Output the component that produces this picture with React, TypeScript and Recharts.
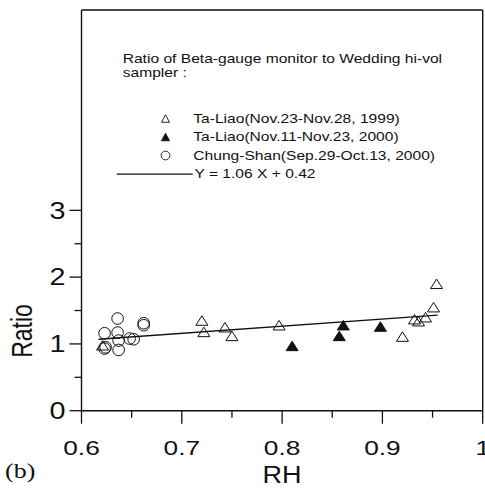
import React from 'react';
import { ScatterChart, Scatter, XAxis, YAxis, ReferenceLine, Customized } from 'recharts';

// Ta-Liao (Nov.23-Nov.28, 1999) - open triangles
const openTriRH = [0.621, 0.720, 0.722, 0.743, 0.750, 0.797, 0.920, 0.932, 0.936, 0.943, 0.951, 0.954];
const openTriRatio = [0.98, 1.35, 1.18, 1.25, 1.12, 1.28, 1.11, 1.37, 1.34, 1.40, 1.55, 1.90];

// Ta-Liao (Nov.11-Nov.23, 2000) - filled triangles
const filledTriRH = [0.810, 0.857, 0.861, 0.898];
const filledTriRatio = [0.97, 1.12, 1.28, 1.26];

// Chung-Shan (Sep.29-Oct.13, 2000) - open circles
const circleRH = [0.623, 0.623, 0.624, 0.636, 0.636, 0.637, 0.637, 0.648, 0.652, 0.662, 0.662];
const circleRatio = [1.16, 0.93, 0.95, 1.38, 1.17, 1.05, 0.91, 1.08, 1.07, 1.31, 1.28];

// Regression line Y = 1.06 X + 0.42 (end points)
const fitRH = [0.617, 0.955];
const fitRatio = [1.07, 1.43];

const xTicks = [0.6, 0.65, 0.7, 0.75, 0.8, 0.85, 0.9, 0.95, 1.0];
const yTicks = [0, 0.5, 1, 1.5, 2, 2.5, 3];

const legendTitle1 = 'Ratio of Beta-gauge monitor to Wedding hi-vol';
const legendTitle2 = 'sampler :';
const legendLabels = [
  'Ta-Liao(Nov.23-Nov.28, 1999)',
  'Ta-Liao(Nov.11-Nov.23, 2000)',
  'Chung-Shan(Sep.29-Oct.13, 2000)',
  'Y = 1.06 X + 0.42',
];

const zip = (xs: number[], ys: number[]) => xs.map((x, i) => ({ x, y: ys[i] }));
const openTriData = zip(openTriRH, openTriRatio);
const filledTriData = zip(filledTriRH, filledTriRatio);
const circleData = zip(circleRH, circleRatio);
const fitData = zip(fitRH, fitRatio);

const FONT = '"Liberation Sans", Arial, Helvetica, sans-serif';
const SX = 1.25;
const INK = '#111';

const SText = ({ x, y, size, anchor = 'start', sx = SX, children, family = FONT }: any) => (
  <text
    transform={`translate(${x},${y}) scale(${sx},1)`}
    x={0}
    y={0}
    fontSize={size}
    fontFamily={family}
    textAnchor={anchor}
    fill={INK}
  >
    {children}
  </text>
);

const triPath = (cx: number, cy: number, w: number, h: number) =>
  `M${cx},${cy - h / 2} L${cx - w / 2},${cy + h / 2} L${cx + w / 2},${cy + h / 2} Z`;

const OpenTri = (p: any) => <path d={triPath(p.cx, p.cy, 12, 9.5)} fill="none" stroke={INK} strokeWidth={1} />;
const FilledTri = (p: any) => <path d={triPath(p.cx, p.cy, 12, 9.5)} fill={INK} stroke={INK} strokeWidth={1} />;
const OpenCircle = (p: any) => <circle cx={p.cx} cy={p.cy} r={5.8} fill="none" stroke={INK} strokeWidth={1} />;
const NoDot = () => <g />;

const isMajorX = (v: number) => Math.abs(v * 10 - Math.round(v * 10)) < 1e-6;
const XTick = ({ x, y, payload }: any) => {
  const v = payload.value;
  const major = isMajorX(v);
  return (
    <g>
      <line x1={x} x2={x} y1={y} y2={y + (major ? 13 : 7)} stroke={INK} strokeWidth={1.3} />
      {major && (
        <SText x={x} y={y + 44.5} size={21} anchor="middle">
          {String(v)}
        </SText>
      )}
    </g>
  );
};

const YTick = ({ x, y, payload }: any) => {
  const v = payload.value;
  const major = Number.isInteger(v);
  return (
    <g>
      <line x1={x - (major ? 12 : 7)} x2={x} y1={y} y2={y} stroke={INK} strokeWidth={1.3} />
      {major && (
        <SText x={x - 16} y={y + 8.3} size={23} anchor="end">
          {String(v)}
        </SText>
      )}
    </g>
  );
};

const LEG = 13;
const LSX = 1.2;

const Decorations = () => (
  <g>
    {/* axis titles */}
    <SText x={282} y={483} size={23.5} anchor="middle" sx={1.15}>RH</SText>
    <text
      transform={`translate(32,331) scale(1.3,1) rotate(-90)`}
      x={0}
      y={0}
      fontSize={23}
      fontFamily={FONT}
      textAnchor="middle"
      fill={INK}
    >
      Ratio
    </text>
    <SText x={5} y={478} size={20} sx={1.3} family='"Liberation Serif", "Times New Roman", serif'>(b)</SText>
    {/* legend */}
    <SText x={122.7} y={62.7} size={LEG} sx={LSX}>{legendTitle1}</SText>
    <SText x={122.7} y={76.5} size={LEG} sx={LSX}>{legendTitle2}</SText>
    <path d={triPath(165.5, 118.5, 8, 7.5)} fill="none" stroke={INK} strokeWidth={0.9} />
    <SText x={193.3} y={122.7} size={LEG} sx={LSX}>{legendLabels[0]}</SText>
    <path d={triPath(165.5, 137, 8, 7.5)} fill={INK} stroke={INK} strokeWidth={0.9} />
    <SText x={193.3} y={141.2} size={LEG} sx={LSX}>{legendLabels[1]}</SText>
    <circle cx={165.5} cy={155.5} r={4.4} fill="none" stroke={INK} strokeWidth={0.9} />
    <SText x={193.3} y={159.6} size={LEG} sx={LSX}>{legendLabels[2]}</SText>
    <line x1={116.7} x2={192.7} y1={174.2} y2={174.2} stroke={INK} strokeWidth={1.2} />
    <SText x={194.5} y={178.3} size={LEG} sx={LSX}>{legendLabels[3]}</SText>
  </g>
);

export default function App() {
  return (
    <div style={{ position: 'absolute', left: 0, top: 0, background: '#fff' }}>
      <ScatterChart width={485} height={488} margin={{ top: 10, right: 2.3, bottom: 0, left: 0 }}>
        <XAxis
          type="number"
          dataKey="x"
          domain={[0.6, 1]}
          ticks={xTicks}
          interval={0}
          allowDataOverflow
          height={77.3}
          tickSize={0}
          tickMargin={0}
          tickLine={false}
          tick={<XTick />}
          axisLine={{ stroke: INK, strokeWidth: 1.4 }}
        />
        <YAxis
          type="number"
          dataKey="y"
          domain={[0, 6]}
          ticks={yTicks}
          interval={0}
          allowDataOverflow
          width={81.5}
          tickSize={0}
          tickMargin={0}
          tickLine={false}
          tick={<YTick />}
          axisLine={{ stroke: INK, strokeWidth: 1.4 }}
        />
        <ReferenceLine y={6} stroke={INK} strokeWidth={1.4} />
        <ReferenceLine x={1} stroke={INK} strokeWidth={1.4} />
        <Scatter
          data={fitData}
          shape={<NoDot />}
          line={{ stroke: INK, strokeWidth: 1.3 }}
          isAnimationActive={false}
        />
        <Scatter data={circleData} shape={<OpenCircle />} isAnimationActive={false} />
        <Scatter data={openTriData} shape={<OpenTri />} isAnimationActive={false} />
        <Scatter data={filledTriData} shape={<FilledTri />} isAnimationActive={false} />
        <Customized component={Decorations} />
      </ScatterChart>
    </div>
  );
}
